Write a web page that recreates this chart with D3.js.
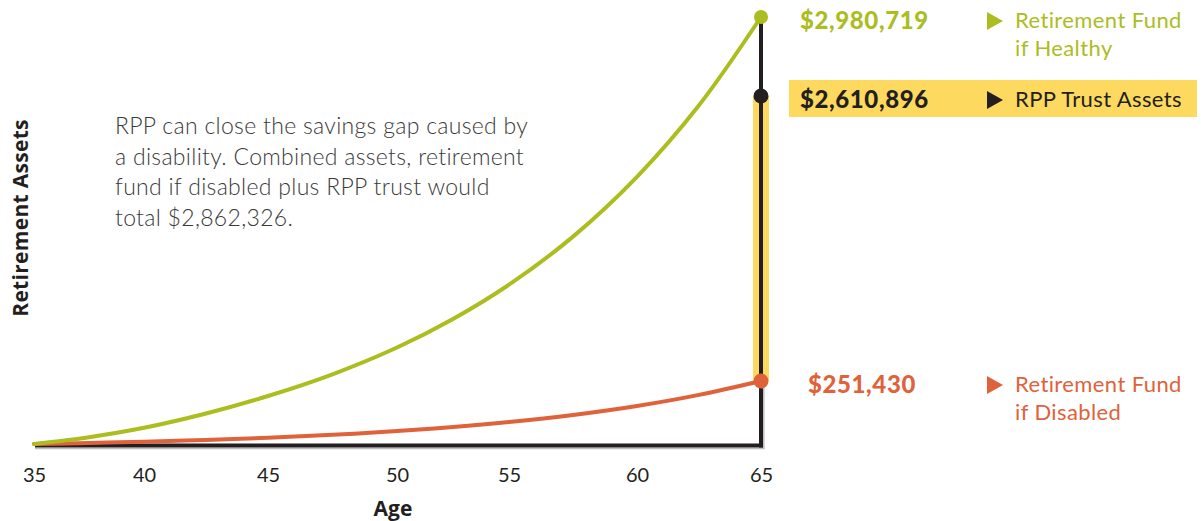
<!DOCTYPE html>
<html>
<head>
<meta charset="utf-8">
<script src="https://cdn.jsdelivr.net/npm/d3@7"></script>
<style>
  html, body { margin: 0; padding: 0; background: #fff; }
  svg { display: block; }
</style>
</head>
<body>
<svg id="chart" width="1201" height="521"></svg>
<script>
// ---- Data ----
const ages = [35, 37.5, 40, 42.5, 45, 47.5, 50, 52.5, 55, 57.5, 60, 62.5, 65];
const fundHealthy = [0, 27140, 64650, 121730, 191570, 306900, 528770, 764720, 1048670, 1446890, 1941960, 2533900, 2980719];
const fundDisabled = [0, 3990, 9180, 15960, 25140, 36720, 51480, 67450, 87400, 115740, 151660, 195960, 251430];
const rppTrust = 2610896;
const xTicks = [35, 40, 45, 50, 55, 60, 65];
const labelValues = [2980719, 2610896, 251430];
const labelLines = [["Retirement Fund", "if Healthy"], ["RPP Trust Assets"], ["Retirement Fund", "if Disabled"]];
const noteLines = [
  "RPP can close the savings gap caused by",
  "a disability. Combined assets, retirement",
  "fund if disabled plus RPP trust would",
  "total $2,862,326."
];
const xTitle = "Age";
const yTitle = "Retirement Assets";

// ---- Styles ----
const GREEN = "#abbd1f", ORANGE = "#e0623a", YELLOW = "#fed95f", DARK = "#231f20";
const labelColors = [GREEN, DARK, ORANGE];
const FONT = "Lato, 'Open Sans', sans-serif";

const svg = d3.select("#chart");

// Scales (the original chart is schematic: piecewise linear)
const x = d3.scaleLinear().domain(xTicks).range([34, 144, 268, 397, 509, 637, 761]);
const y = d3.scaleLinear()
  .domain([0, fundDisabled[fundDisabled.length - 1], rppTrust, fundHealthy[fundHealthy.length - 1]])
  .range([444, 381, 96, 17]);

const xEnd = x(65);

// Annotation
const note = svg.append("text")
  .attr("font-family", FONT).attr("font-weight", 300)
  .attr("font-size", 23).attr("letter-spacing", 0.3).attr("fill", "#3a3a3a");
noteLines.forEach((l, i) => {
  note.append("tspan").attr("x", 115).attr("y", 134 + i * 30.5).text(l);
});

// Yellow band on vertical line (RPP trust)
svg.append("line")
  .attr("x1", xEnd).attr("x2", xEnd)
  .attr("y1", y(rppTrust)).attr("y2", y(labelValues[2]))
  .attr("stroke", YELLOW).attr("stroke-width", 16);

// Axis shadow lines
svg.append("line").attr("x1", 35).attr("x2", xEnd + 3.5)
  .attr("y1", 448.5).attr("y2", 448.5).attr("stroke", "#bdbdbd").attr("stroke-width", 1.5);
svg.append("line").attr("x1", xEnd + 2.8).attr("x2", xEnd + 2.8)
  .attr("y1", y(labelValues[2])).attr("y2", 449).attr("stroke", "#bdbdbd").attr("stroke-width", 1.5);

// Baseline & vertical line
svg.append("line").attr("x1", 35).attr("x2", xEnd + 2)
  .attr("y1", 445.5).attr("y2", 445.5).attr("stroke", DARK).attr("stroke-width", 4);
svg.append("line").attr("x1", xEnd).attr("x2", xEnd)
  .attr("y1", y(fundHealthy[fundHealthy.length - 1])).attr("y2", 447.5)
  .attr("stroke", DARK).attr("stroke-width", 4);

// Curves
const line = d3.line().x((d, i) => x(ages[i])).y(d => y(d)).curve(d3.curveCatmullRom.alpha(0.5));
svg.append("path").datum(fundDisabled).attr("d", line)
  .attr("fill", "none").attr("stroke", ORANGE).attr("stroke-width", 4).attr("stroke-linecap", "round");
svg.append("path").datum(fundHealthy).attr("d", line)
  .attr("fill", "none").attr("stroke", GREEN).attr("stroke-width", 4).attr("stroke-linecap", "round");

// End dots
svg.selectAll("circle.end").data(labelValues).join("circle")
  .attr("class", "end")
  .attr("cx", xEnd).attr("cy", d => y(d))
  .attr("r", (d, i) => i === 0 ? 7 : 7.5)
  .attr("fill", (d, i) => labelColors[i]);

// banner behind RPP
svg.append("rect").attr("x", 789).attr("y", y(rppTrust) - 16).attr("width", 408).attr("height", 37)
  .attr("fill", YELLOW);

// Right-side labels
const vx = [800, 800, 808];
labelValues.forEach((v, i) => {
  const cy = y(v);
  svg.append("text")
    .attr("x", vx[i]).attr("y", cy + 11.5)
    .attr("font-family", FONT).attr("font-weight", 900)
    .attr("font-size", 24).attr("letter-spacing", 0.6).attr("fill", labelColors[i])
    .text(d3.format("$,")(v));
  const ty = cy + 4;
  svg.append("path")
    .attr("d", `M987,${ty - 9}L1003,${ty}L987,${ty + 9}Z`)
    .attr("fill", labelColors[i]);
  labelLines[i].forEach((l, j) => {
    svg.append("text")
      .attr("x", 1015).attr("y", cy + 11 + j * 28)
      .attr("font-family", FONT).attr("font-size", 22).attr("letter-spacing", 0.4)
      .attr("fill", labelColors[i])
      .text(l);
  });
});

// X axis labels
const xAxis = d3.axisBottom(x).tickValues(xTicks).tickSize(0).tickPadding(0).tickFormat(d3.format("d"));
const gx = svg.append("g").attr("transform", "translate(0,466)").call(xAxis);
gx.select(".domain").remove();
gx.selectAll("text")
  .attr("font-family", FONT).attr("font-size", 20).attr("fill", DARK)
  .attr("dy", "0.8em");

// Axis titles
svg.append("text").attr("x", 393).attr("y", 516)
  .attr("text-anchor", "middle")
  .attr("font-family", "'Open Sans', sans-serif").attr("font-weight", 700)
  .attr("font-size", 21).attr("fill", DARK).text(xTitle);
svg.append("text")
  .attr("transform", "translate(28,218) rotate(-90)")
  .attr("text-anchor", "middle")
  .attr("font-family", "'Open Sans', sans-serif").attr("font-weight", 700)
  .attr("font-size", 21).attr("letter-spacing", 0.3).attr("fill", DARK).text(yTitle);
</script>
</body>
</html>
